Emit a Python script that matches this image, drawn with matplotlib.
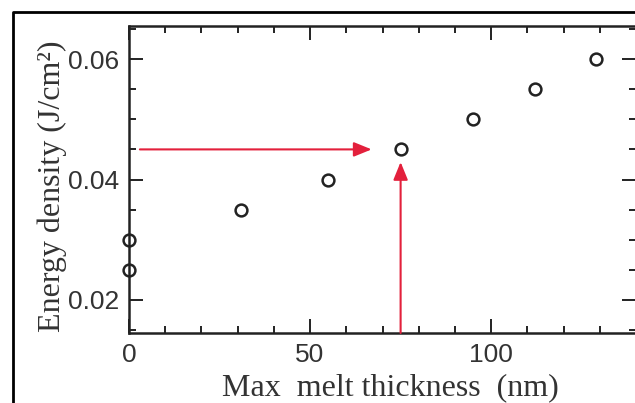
import matplotlib
matplotlib.use("Agg")
import matplotlib.pyplot as plt
from matplotlib.lines import Line2D
from matplotlib.ticker import MultipleLocator, FixedLocator, FormatStrFormatter

# Data
melt_thickness = [0, 0, 31, 55, 75, 95, 112, 129]
energy_density = [0.025, 0.030, 0.035, 0.040, 0.045, 0.050, 0.055, 0.060]
x_ticks = [0, 50, 100]
y_ticks = [0.02, 0.04, 0.06]
# red arrow guides: horizontal (x_start, x_end, y) and vertical (x, y_start, y_end)
arrow_h = (3, 67, 0.045)
arrow_v = (75, 0.0145, 0.0429)

fig = plt.figure(figsize=(6.35, 4.03), dpi=100)
ax = fig.add_axes([129/635, 1-333/403, 507/635, 307/403])

tick_font = ['Liberation Sans', 'DejaVu Sans']
label_font = ['Liberation Serif', 'DejaVu Serif']

ax.plot(melt_thickness, energy_density, 'o', mfc='white', mec='#222222',
        ms=8.5, mew=1.8, clip_on=False, zorder=2)

red = '#e3203c'
for xy, xytext in [((arrow_h[1], arrow_h[2]), (arrow_h[0], arrow_h[2])),
                   ((arrow_v[0], arrow_v[2]), (arrow_v[0], arrow_v[1]))]:
    ax.annotate('', xy=xy, xytext=xytext,
                arrowprops=dict(arrowstyle='-|>,head_length=0.54,head_width=0.22',
                                color=red, lw=1.5, shrinkA=0, shrinkB=0,
                                mutation_scale=20))

ax.set_xlim(0, 140)
ax.set_ylim(0.0145, 0.0655)
ax.xaxis.set_major_locator(FixedLocator(x_ticks))
ax.xaxis.set_minor_locator(MultipleLocator(10))
ax.yaxis.set_major_locator(FixedLocator(y_ticks))
ax.yaxis.set_minor_locator(MultipleLocator(0.005))
ax.xaxis.set_major_formatter(FormatStrFormatter('%d'))
ax.yaxis.set_major_formatter(FormatStrFormatter('%.2f'))

ax.tick_params(which='both', direction='in', top=True, right=True,
               color='#222222', labelcolor='#333333')
ax.tick_params(which='major', length=10, width=1.4, labelsize=19, pad=7)
ax.tick_params(which='minor', length=5, width=1.4)
for lbl in ax.get_xticklabels() + ax.get_yticklabels():
    lbl.set_family(tick_font)
for sp in ax.spines.values():
    sp.set_linewidth(1.8)
    sp.set_color('#222222')

ax.set_xlabel('Max  melt thickness  (nm)', family=label_font, fontsize=23,
              color='#333333')
ax.set_ylabel('Energy density (J/cm²)', family=label_font, fontsize=23,
              color='#333333')
ax.xaxis.set_label_coords(0.515, -0.131)
ax.yaxis.set_label_coords(-0.122, 0.479)

# outer frame (top and left edges visible)
fig.add_artist(Line2D([13/635, 13/635, 1.01], [-0.01, 1-12/403, 1-12/403],
                      transform=fig.transFigure, color='black', lw=2))

fig.savefig('out.png', dpi=100)
